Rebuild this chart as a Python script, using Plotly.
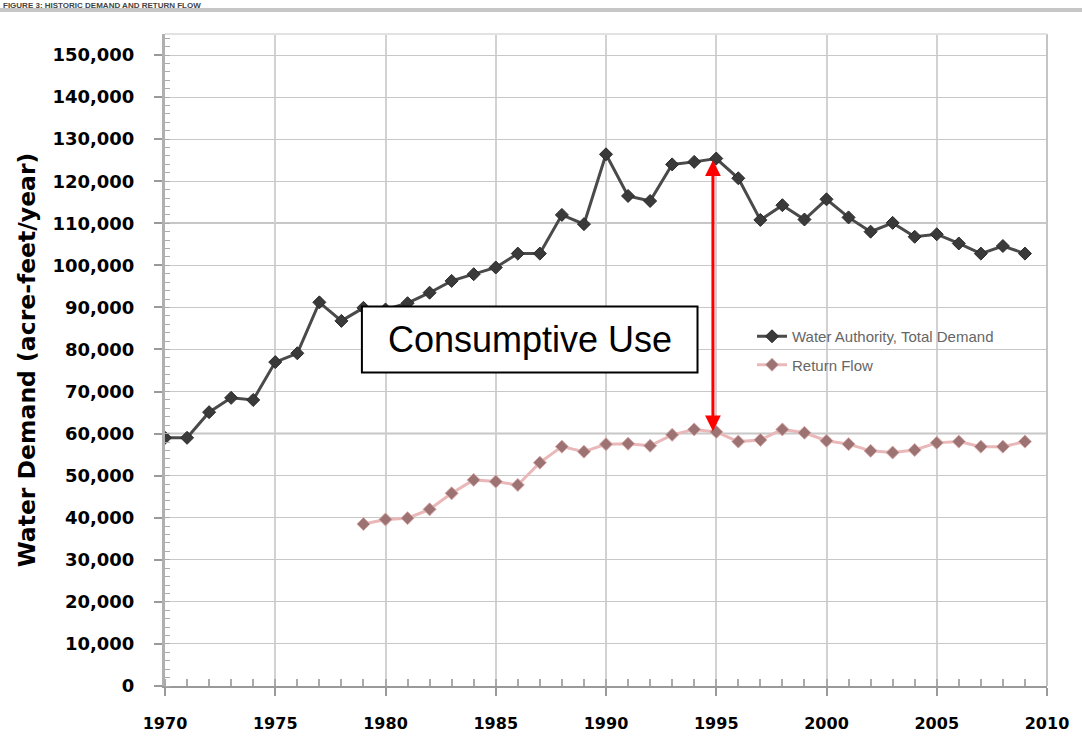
import plotly.graph_objects as go

# ---- data ----
years_total = list(range(1970, 2010))
total_demand = [59000, 59000, 65100, 68500, 68000, 77000, 79100, 91200, 86800, 89900,
                89500, 91000, 93500, 96300, 97900, 99500, 102800, 102800, 112000, 109800,
                126400, 116500, 115300, 124000, 124600, 125400, 120700, 110800, 114300, 110900,
                115700, 111400, 108000, 110100, 106800, 107400, 105200, 102800, 104600, 102800]
years_return = list(range(1979, 2010))
return_flow = [38500, 39600, 39900, 42000, 45800, 49000, 48600, 47800, 53100, 56900,
               55700, 57500, 57600, 57100, 59700, 61000, 60400, 58100, 58500, 61000,
               60200, 58300, 57500, 55900, 55500, 56100, 57800, 58100, 56900, 56900, 58100]
x_ticks = list(range(1970, 2011, 5))
y_ticks = list(range(0, 150001, 10000))
series_names = ["Water Authority, Total Demand", "Return Flow"]
y_title = "Water Demand (acre-feet/year)"
box_label = "Consumptive Use"
banner_text = "FIGURE 3: HISTORIC DEMAND AND RETURN FLOW"
arrow_year = 1995

idx_t = years_total.index(arrow_year)
idx_r = years_return.index(arrow_year)

fig = go.Figure()
fig.add_trace(go.Scatter(
    x=years_total, y=total_demand, mode="lines+markers", name=series_names[0],
    line=dict(color="#4a4a4a", width=3),
    marker=dict(symbol="diamond", size=10, color="#3a3a3a", line=dict(color="#2a2a2a", width=1)),
    legendgroup="a"))
fig.add_trace(go.Scatter(
    x=years_return, y=return_flow, mode="lines+markers", name=series_names[1],
    line=dict(color="#eab8b8", width=3),
    marker=dict(symbol="diamond", size=10, color="#9c7272", line=dict(color="#d8a8a8", width=1)),
    legendgroup="b"))

L, R, T, B = 165, 35, 34, 69
W, H = 1082, 755
pw, ph = W - L - R, H - T - B

def px_x(p):
    return (p - L) / pw

def px_y(p):
    return (H - B - p) / ph

shapes = []
for v in (60000, 110000):
    shapes.append(dict(type="line", xref="paper", yref="y", x0=0, x1=1, y0=v, y1=v,
                       line=dict(color="#8c8c8c", width=1.5), layer="below"))
shapes.append(dict(type="line", xref="paper", yref="paper", x0=1, x1=1, y0=0, y1=1,
                   line=dict(color="#c4c4c4", width=2)))
shapes.append(dict(type="line", xref="paper", yref="paper", x0=0, x1=1, y0=1, y1=1,
                   line=dict(color="#e2e2e2", width=2)))
shapes.append(dict(type="line", xref="paper", yref="paper", x0=px_x(0), x1=px_x(W),
                   y0=px_y(10), y1=px_y(10), line=dict(color="#c6c6c6", width=4)))
shapes.append(dict(type="rect", xref="x", yref="y", x0=1978.93, x1=1994.15, y0=74500, y1=90200,
                   fillcolor="white", line=dict(color="black", width=2), layer="above"))

annotations = [
    dict(x=(1978.93 + 1994.15) / 2, y=(74500 + 90200) / 2, xref="x", yref="y",
         text=box_label, showarrow=False,
         font=dict(family="Liberation Sans, Arial", size=36, color="black")),
    dict(x=arrow_year - 0.15, y=total_demand[idx_t] - 400, xref="x", yref="y",
         ax=arrow_year - 0.15, ay=return_flow[idx_r] - 200, axref="x", ayref="y",
         text="", showarrow=True, arrowhead=2, startarrowhead=2, arrowside="end+start",
         arrowsize=1.05, startarrowsize=1.05, arrowwidth=3, arrowcolor="#ff0000",
         standoff=0, startstandoff=0),
    dict(x=px_x(2), y=px_y(0), xref="paper", yref="paper", xanchor="left", yanchor="top",
         text=banner_text, showarrow=False, borderpad=0,
         font=dict(family="Liberation Sans, Arial", size=8, color="#444", weight="bold")),
]

fig.update_layout(
    width=W, height=H,
    margin=dict(l=L, r=R, t=T, b=B, autoexpand=False),
    paper_bgcolor="white", plot_bgcolor="white",
    showlegend=True,
    legend=dict(x=px_x(752), y=px_y(320), xanchor="left", yanchor="top",
                bgcolor="rgba(0,0,0,0)", tracegroupgap=6, traceorder="grouped",
                font=dict(family="Liberation Sans, Arial", size=15, color="#666")),
    shapes=shapes, annotations=annotations,
    xaxis=dict(range=[1970, 2010], tickvals=x_ticks, ticktext=[str(v) for v in x_ticks],
               showgrid=True, gridcolor="#d2d2d2", gridwidth=1.5,
               showline=True, linecolor="#9a9a9a", linewidth=2,
               ticks="outside", ticklen=8, tickcolor="#9a9a9a", tickwidth=2,
               minor=dict(dtick=1, tick0=1970, ticks="inside", ticklen=7, tickcolor="#aaaaaa", tickwidth=1.5),
               ticklabelstandoff=14, zeroline=False,
               tickfont=dict(family="DejaVu Sans", size=16, color="black", weight="bold")),
    yaxis=dict(range=[0, 155000], tickvals=y_ticks, ticktext=[f"{v:,}" for v in y_ticks],
               showgrid=True, gridcolor="#c8c8c8", gridwidth=1,
               showline=True, linecolor="#b0b0b0", linewidth=3,
               ticks="outside", ticklen=8, tickcolor="#9a9a9a", tickwidth=1.5,
               minor=dict(dtick=2000, ticks="inside", ticklen=5, tickcolor="#aaaaaa", tickwidth=1, showgrid=False),
               ticklabelstandoff=16, zeroline=False,
               title=dict(text=y_title, standoff=11,
                          font=dict(family="DejaVu Sans", size=23.5, color="black", weight="bold")),
               tickfont=dict(family="DejaVu Sans", size=18, color="black", weight="bold")),
)

fig.write_html("out.html", config={"displayModeBar": False},
               post_script="document.body.style.margin='0';document.body.style.overflow='hidden';")
